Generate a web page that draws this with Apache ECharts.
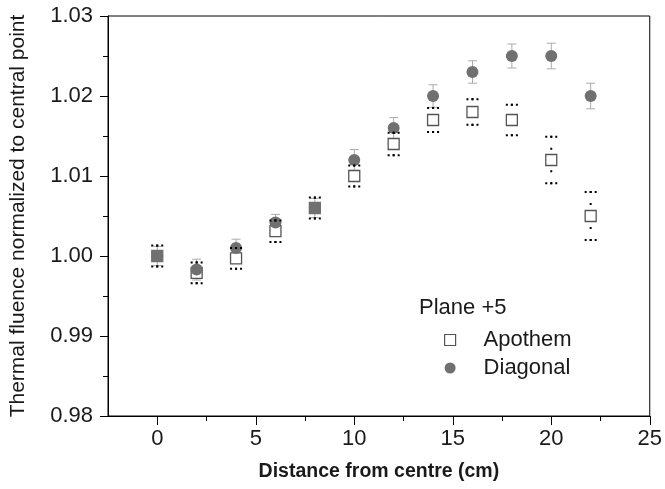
<!DOCTYPE html>
<html>
<head>
<meta charset="utf-8">
<script src="https://cdn.jsdelivr.net/npm/echarts@6/dist/echarts.min.js"></script>
<style>
  html, body { margin: 0; padding: 0; background: #fff; }
  #chart { width: 665px; height: 489px; }
</style>
</head>
<body>
<div id="chart"></div>
<script>
// ---- data ----
const distance = [0, 2, 4, 6, 8, 10, 12, 14, 16, 18, 20, 22];
const apothem = [1.0000, 0.9979, 0.9997, 1.0031, 1.0060, 1.0100, 1.0140, 1.0170, 1.0180, 1.0170, 1.0120, 1.0050];
const apothemErr = [0.0013, 0.0013, 0.0013, 0.00135, 0.0013, 0.0013, 0.0014, 0.0015, 0.0016, 0.0019, 0.0029, 0.0030];
const diagonal = [1.0000, 0.9983, 1.0010, 1.0042, 1.0060, 1.0120, 1.0160, 1.0200, 1.0230, 1.0250, 1.0250, 1.0200];
const diagonalErr = [0.0012, 0.0013, 0.0011, 0.0010, 0.0012, 0.0013, 0.0013, 0.0014, 0.0014, 0.0015, 0.0016, 0.0016];
const xMajorTicks = [0, 5, 10, 15, 20, 25];
const xMinorTicks = [2.5, 7.5, 12.5, 17.5, 22.5];
const legendTitle = 'Plane +5';

// ---- styling ----
const FONT = '"Liberation Sans", Arial, sans-serif';
const TXT = '#1a1a1a';
const CIRCLE = '#707070';
const GRAYBAR = '#aaaaaa';
const SQ_SIZE = 11;
const GRAY_FILLED_X = [0, 8];

const apothemPts = distance.map((x, i) => {
  const item = { value: [x, apothem[i]] };
  if (GRAY_FILLED_X.indexOf(x) >= 0) item.itemStyle = { color: CIRCLE, borderColor: CIRCLE };
  return item;
});
const diagonalPts = distance.map((x, i) => [x, diagonal[i]]);
const apothemErrData = distance.map((x, i) => [x, apothem[i], apothemErr[i]]);
const diagonalErrData = distance.map((x, i) => [x, diagonal[i], diagonalErr[i]]);

const chart = echarts.init(document.getElementById('chart'), null, { renderer: 'canvas' });

function grayErr(params, api) {
  const x = api.value(0), y = api.value(1), e = api.value(2);
  const top = api.coord([x, y + e]);
  const bot = api.coord([x, y - e]);
  const hw = 4.5;
  const st = { stroke: GRAYBAR, lineWidth: 1 };
  return {
    type: 'group',
    children: [
      { type: 'line', shape: { x1: top[0], y1: top[1], x2: bot[0], y2: bot[1] }, style: st },
      { type: 'line', shape: { x1: top[0] - hw, y1: top[1], x2: top[0] + hw, y2: top[1] }, style: st },
      { type: 'line', shape: { x1: bot[0] - hw, y1: bot[1], x2: bot[0] + hw, y2: bot[1] }, style: st }
    ]
  };
}

function dotErr(params, api) {
  const x = api.value(0), y = api.value(1), e = api.value(2);
  const c = api.coord([x, y]);
  const top = api.coord([x, y + e]);
  const bot = api.coord([x, y - e]);
  const hw = 6;
  const half = SQ_SIZE / 2;
  const capSt = { stroke: '#000', lineWidth: 2, lineDash: [2, 3] };
  const vSt = { stroke: '#000', lineWidth: 2, lineDash: [2, 10] };
  const children = [
    { type: 'line', shape: { x1: top[0] - hw, y1: top[1], x2: top[0] + hw, y2: top[1] }, style: capSt },
    { type: 'line', shape: { x1: bot[0] - hw, y1: bot[1], x2: bot[0] + hw, y2: bot[1] }, style: capSt }
  ];
  if (c[1] - half > top[1]) {
    children.push({ type: 'line', shape: { x1: top[0], y1: top[1] - 1, x2: top[0], y2: c[1] - half }, style: vSt });
    children.push({ type: 'line', shape: { x1: bot[0], y1: bot[1] + 1, x2: bot[0], y2: c[1] + half }, style: vSt });
  }
  return { type: 'group', children };
}

const option = {
  backgroundColor: '#fff',
  animation: false,
  grid: {
    left: 107, right: 14, top: 16, bottom: 73,
    show: true, borderColor: '#000', borderWidth: 1, backgroundColor: 'transparent'
  },
  xAxis: [
    {
      type: 'value', min: -2.5, max: 25, interval: 2.5,
      name: 'Distance from centre (cm)', nameLocation: 'middle', nameGap: 46,
      nameTextStyle: { fontFamily: FONT, fontSize: 19.5, fontWeight: 'bold', color: TXT },
      axisLine: { show: true, onZero: false, lineStyle: { color: '#000', width: 1 } },
      axisTick: { show: true, customValues: xMajorTicks, length: 9, lineStyle: { color: '#000', width: 1 } },
      axisLabel: { customValues: xMajorTicks, margin: 12, fontFamily: FONT, fontSize: 22, color: TXT },
      splitLine: { show: false }
    },
    {
      type: 'value', min: -2.5, max: 25, interval: 2.5, position: 'bottom',
      axisLine: { show: false },
      axisTick: { show: true, customValues: xMinorTicks, length: 5, lineStyle: { color: '#000', width: 1 } },
      axisLabel: { show: false },
      splitLine: { show: false }
    }
  ],
  yAxis: {
    type: 'value', min: 0.98, max: 1.03, interval: 0.01,
    name: 'Thermal fluence normalized to central point', nameLocation: 'middle', nameGap: 79,
    nameTextStyle: { fontFamily: FONT, fontSize: 21, color: TXT },
    axisLine: { show: true, onZero: false, lineStyle: { color: '#000', width: 1 } },
    axisTick: { show: true, length: 8, lineStyle: { color: '#000', width: 1 } },
    minorTick: { show: true, splitNumber: 2, length: 5, lineStyle: { color: '#000', width: 1 } },
    axisLabel: { margin: 15, fontFamily: FONT, fontSize: 22, color: TXT, formatter: v => v.toFixed(2) },
    splitLine: { show: false }
  },
  legend: {
    orient: 'vertical', left: 439, top: 324,
    itemWidth: 11, itemHeight: 11, itemGap: 6,
    textStyle: { fontFamily: FONT, fontSize: 22, color: TXT, padding: [0, 0, 0, 23] },
    data: [
      { name: 'Apothem', icon: 'rect', itemStyle: { color: '#fff', borderColor: '#555', borderWidth: 1.2 } },
      { name: 'Diagonal', icon: 'circle', itemStyle: { color: CIRCLE } }
    ]
  },
  graphic: [
    { type: 'text', left: 419, top: 297, style: { text: legendTitle, font: '22px ' + FONT, fill: TXT } }
  ],
  series: [
    {
      type: 'custom', name: 'Diagonal error', renderItem: grayErr, data: diagonalErrData, z: 2,
      encode: { x: 0, y: 1 }, silent: true
    },
    {
      type: 'scatter', name: 'Apothem', data: apothemPts, symbol: 'rect', symbolSize: SQ_SIZE, z: 3,
      itemStyle: { color: '#fff', borderColor: '#555', borderWidth: 1.3, opacity: 1 }
    },
    {
      type: 'scatter', name: 'Diagonal', data: diagonalPts, symbol: 'circle', symbolSize: 12, z: 4,
      itemStyle: { color: CIRCLE, opacity: 1 }
    },
    {
      type: 'custom', name: 'Apothem error', renderItem: dotErr, data: apothemErrData, z: 5,
      encode: { x: 0, y: 1 }, silent: true
    }
  ]
};
chart.setOption(option);
</script>
</body>
</html>
